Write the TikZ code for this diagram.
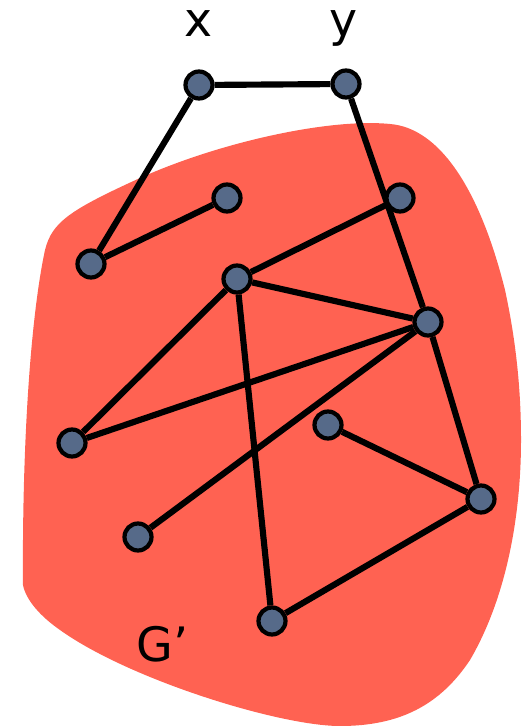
\documentclass[tikz,border=0pt]{standalone}
\usepackage{fontspec}
\setmainfont{DejaVu Sans}
\usetikzlibrary{backgrounds}
\definecolor{region}{HTML}{FF6252}
\definecolor{slate}{HTML}{566A89}

\begin{document}
\begin{tikzpicture}[x=0.02cm,y=-0.02cm,
  vtx/.style={circle,draw=black,fill=slate,line width=2.4pt,inner sep=0pt,
              minimum size=0.54cm},
  lbl/.style={font=\fontsize{27}{32}\selectfont,inner sep=0pt,anchor=base},
  link/.style={line width=3.5pt,color=black}]
\useasboundingbox (0,0) rectangle (521,726);
\node[vtx] (nx) at (199,85) {};
\node[vtx] (ny) at (346,84) {};
\node[vtx] (a) at (227,198) {};
\node[vtx] (b) at (400,198) {};
\node[vtx] (c) at (91,264) {};
\node[vtx] (d) at (237,279) {};
\node[vtx] (e) at (428,322) {};
\node[vtx] (f) at (72,443) {};
\node[vtx] (g) at (328,425) {};
\node[vtx] (h) at (481,499) {};
\node[vtx] (i) at (138,537) {};
\node[vtx] (j) at (272,621) {};
\node[lbl] (lx) at (199,37) {x};
\node[lbl] (ly) at (344,37) {y};
\node[lbl,anchor=base west] (lg) at (136,661) {G’};
\begin{pgfonlayer}{background}
\fill[region] (23,585) .. controls (22,450) and (30,320) .. (45,250)
  .. controls (52,222) and (70,210) .. (140,178)
  .. controls (220,142) and (330,118) .. (390,124)
  .. controls (440,128) and (480,190) .. (505,290)
  .. controls (518,350) and (521,400) .. (521,440)
  .. controls (521,520) and (505,600) .. (470,660)
  .. controls (440,705) and (400,726) .. (340,726)
  .. controls (280,726) and (130,680) .. (60,630)
  .. controls (40,616) and (26,600) .. (23,585) -- cycle;
\draw[link] (nx) -- (ny);
\draw[link] (nx) -- (c);
\draw[link] (c) -- (a);
\draw[link] (ny) -- (e);
\draw[link] (b) -- (d);
\draw[link] (d) -- (e);
\draw[link] (d) -- (f);
\draw[link] (d) -- (j);
\draw[link] (f) -- (e);
\draw[link] (i) -- (e);
\draw[link] (e) -- (h);
\draw[link] (g) -- (h);
\draw[link] (h) -- (j);
\end{pgfonlayer}
\end{tikzpicture}
\end{document}
